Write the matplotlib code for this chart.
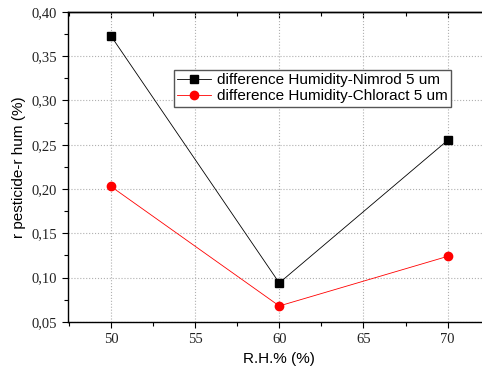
import matplotlib
matplotlib.use('Agg')
import matplotlib.pyplot as plt
from matplotlib.ticker import MultipleLocator, FuncFormatter

rh = [50, 60, 70]
nimrod = [0.373, 0.094, 0.255]
chloract = [0.203, 0.068, 0.124]

fig = plt.figure(figsize=(4.82, 3.73), dpi=100)
ax = fig.add_axes([0.141, 0.137, 0.875, 0.831])

ax.plot(rh, nimrod, color='black', linewidth=0.6, marker='s', markersize=5.5,
        label='difference Humidity-Nimrod 5 um')
ax.plot(rh, chloract, color='red', linewidth=0.6, marker='o', markersize=6,
        label='difference Humidity-Chloract 5 um')

ax.set_xlim(47.45, 72.5)
ax.set_ylim(0.05, 0.40)
ax.xaxis.set_major_locator(MultipleLocator(5))
ax.xaxis.set_minor_locator(MultipleLocator(2.5))
ax.yaxis.set_major_locator(MultipleLocator(0.05))
ax.yaxis.set_minor_locator(MultipleLocator(0.025))
ax.yaxis.set_major_formatter(FuncFormatter(lambda v, p: f'{v:.2f}'.replace('.', ',')))
ax.xaxis.set_major_formatter(FuncFormatter(lambda v, p: f'{v:.0f}'))

ax.grid(True, which='major', linestyle=':', color='#b0b0b0', linewidth=0.8)
ax.tick_params(which='both', direction='out', width=0.8)
ax.tick_params(which='major', length=4.5, labelsize=10.5)
ax.tick_params(which='minor', length=3)
for lab in ax.get_xticklabels() + ax.get_yticklabels():
    lab.set_fontfamily('Liberation Serif')
    lab.set_color('#222222')

# inward ticks along the top spine, no labels
top = ax.secondary_xaxis('top')
top.xaxis.set_major_locator(MultipleLocator(5))
top.xaxis.set_minor_locator(MultipleLocator(2.5))
top.tick_params(which='both', direction='in', width=0.8, labeltop=False)
top.tick_params(which='major', length=4.5)
top.tick_params(which='minor', length=3)
top.spines['top'].set_linewidth(1.0)

ax.set_xlabel('R.H.% (%)', fontsize=11, family='Liberation Sans')
ax.set_ylabel('r pesticide-r hum (%)', fontsize=11, family='Liberation Sans')
for s in ax.spines.values():
    s.set_linewidth(1.0)

ax.legend(loc='upper left', bbox_to_anchor=(0.361, 0.812), bbox_transform=fig.transFigure,
          frameon=True, fancybox=False, edgecolor='#555555', framealpha=1,
          prop={'family': 'Liberation Sans', 'size': 11}, handlelength=2.2,
          borderpad=0.2, labelspacing=0.15, handletextpad=0.4, borderaxespad=0)

fig.savefig('out.png', dpi=100)
